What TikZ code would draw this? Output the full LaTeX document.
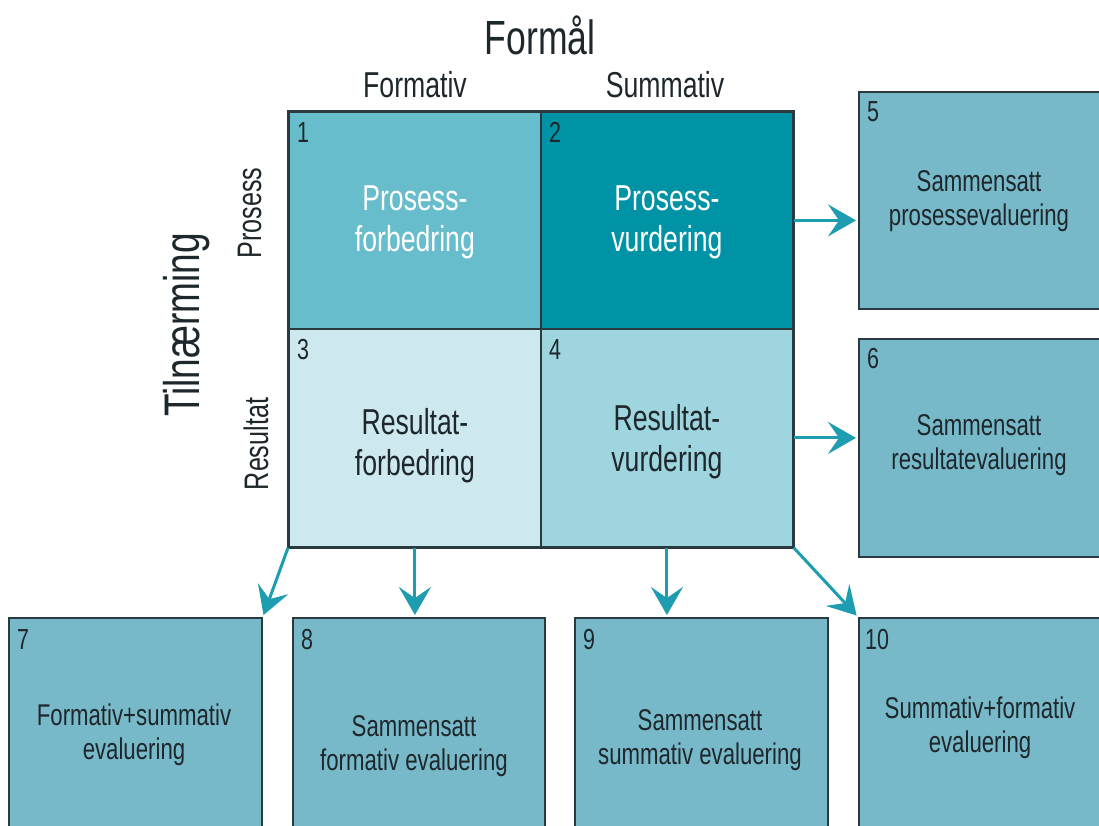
\documentclass[tikz,border=0pt]{standalone}
\usepackage{fontspec}
\setmainfont{Liberation Sans}[FakeStretch=0.74]
\usetikzlibrary{arrows.meta}
\definecolor{cA}{HTML}{67BDCB}
\definecolor{cB}{HTML}{0093A5}
\definecolor{cC}{HTML}{CDE8EE}
\definecolor{cD}{HTML}{9ED5DF}
\definecolor{boxc}{HTML}{78B9C9}
\definecolor{arrc}{HTML}{1E9CB0}
\definecolor{bordc}{HTML}{2B3A3E}
\definecolor{txtc}{HTML}{1E272B}
\begin{document}
\begin{tikzpicture}[x=1pt,y=-1pt,
  cellbox/.style={draw=bordc, line width=1.8pt, anchor=north west, inner sep=0pt, minimum width=252pt},
  outbox/.style={draw=bordc, line width=1.8pt, anchor=north west, inner sep=0pt, fill=boxc},
  celltxt/.style={align=center, font=\fontsize{36}{41}\selectfont},
  boxtxt/.style={align=center, text=txtc, font=\fontsize{30}{34}\selectfont},
  num/.style={anchor=base west, text=txtc, inner sep=0pt, font=\fontsize{29}{30}\selectfont},
  head/.style={anchor=base, text=txtc, inner sep=0pt},
  arr/.style={draw=arrc, line width=3pt, -{Stealth[length=28pt,width=32pt,inset=11pt]}, shorten >=2pt}]
\useasboundingbox (0,0) rectangle (1099,825);
\clip (0,0) rectangle (1099,825);
% headers
\node[head, font=\fontsize{48}{52}\selectfont] (formal) at (540,54) {Formål};
\node[head, font=\fontsize{36}{38}\selectfont] (hform) at (415,97) {Formativ};
\node[head, font=\fontsize{36}{38}\selectfont] (hsum) at (665,97) {Summativ};
\node[head, rotate=90, font=\fontsize{50}{54}\selectfont] (tiln) at (199,325) {Tilnærming};
\node[head, rotate=90, font=\fontsize{34}{36}\selectfont] (hpros) at (261,213) {Prosess};
\node[head, rotate=90, font=\fontsize{34}{36}\selectfont] (hres) at (268,444) {Resultat};
% grid cells
\node[cellbox, fill=cA, minimum height=217pt] (c1) at (288,111) {};
\node[cellbox, fill=cB, minimum height=217pt] (c2) at (540,111) {};
\node[cellbox, fill=cC, minimum height=218pt] (c3) at (288,328) {};
\node[cellbox, fill=cD, minimum height=218pt] (c4) at (540,328) {};
\node[celltxt, text=white] (t1) at ([yshift=-2pt]c1.center) {Prosess-\\forbedring};
\node[celltxt, text=white] (t2) at ([yshift=-2pt]c2.center) {Prosess-\\vurdering};
\node[celltxt, text=txtc] (t3) at ([yshift=-8pt]c3.center) {Resultat-\\forbedring};
\node[celltxt, text=txtc] (t4) at ([yshift=-4pt]c4.center) {Resultat-\\vurdering};
% outer boxes
\node[outbox, minimum width=260pt, minimum height=217pt] (b5) at (858,91) {};
\node[outbox, minimum width=260pt, minimum height=218pt] (b6) at (858,338) {};
\node[outbox, minimum width=253pt, minimum height=260pt] (b7) at (8,617) {};
\node[outbox, minimum width=252pt, minimum height=260pt] (b8) at (292,617) {};
\node[outbox, minimum width=253pt, minimum height=260pt] (b9) at (574,617) {};
\node[outbox, minimum width=260pt, minimum height=260pt] (b10) at (858,617) {};
\node[boxtxt] (t5) at (979,201) {Sammensatt\\prosessevaluering};
\node[boxtxt] (t6) at (979,445) {Sammensatt\\resultatevaluering};
\node[boxtxt] (t7) at (134,735) {Formativ+summativ\\evaluering};
\node[boxtxt] (t8) at (414,746) {Sammensatt\\formativ evaluering};
\node[boxtxt] (t9) at (700,740) {Sammensatt\\summativ evaluering};
\node[boxtxt] (t10) at (980,728) {Summativ+formativ\\evaluering};
% numbers
\node[num] (n1) at ([shift={(9pt,-31pt)}]c1.north west) {1};
\node[num] (n2) at ([shift={(9pt,-31pt)}]c2.north west) {2};
\node[num] (n3) at ([shift={(9pt,-31pt)}]c3.north west) {3};
\node[num] (n4) at ([shift={(9pt,-31pt)}]c4.north west) {4};
\node[num] (n5) at ([shift={(9pt,-30pt)}]b5.north west) {5};
\node[num] (n6) at ([shift={(9pt,-30pt)}]b6.north west) {6};
\node[num] (n7) at ([shift={(9pt,-32pt)}]b7.north west) {7};
\node[num] (n8) at ([shift={(9pt,-32pt)}]b8.north west) {8};
\node[num] (n9) at ([shift={(9pt,-32pt)}]b9.north west) {9};
\node[num] (n10) at ([shift={(7pt,-32pt)}]b10.north west) {10};
% grid outline on top
\draw[bordc, line width=1.8pt] (c1.north west) rectangle (c4.south east);
% arrows
\draw[arr] (c2.east) -- (c2.east -| b5.west);
\draw[arr] (c4.east) -- (c4.east -| b6.west);
\draw[arr] (c3.south west) -- (b7.north east);
\draw[arr] (c3.south) -- (c3.south |- b8.north);
\draw[arr] (c4.south) -- (c4.south |- b9.north);
\draw[arr] (c4.south east) -- (b10.north west);
\end{tikzpicture}
\end{document}
